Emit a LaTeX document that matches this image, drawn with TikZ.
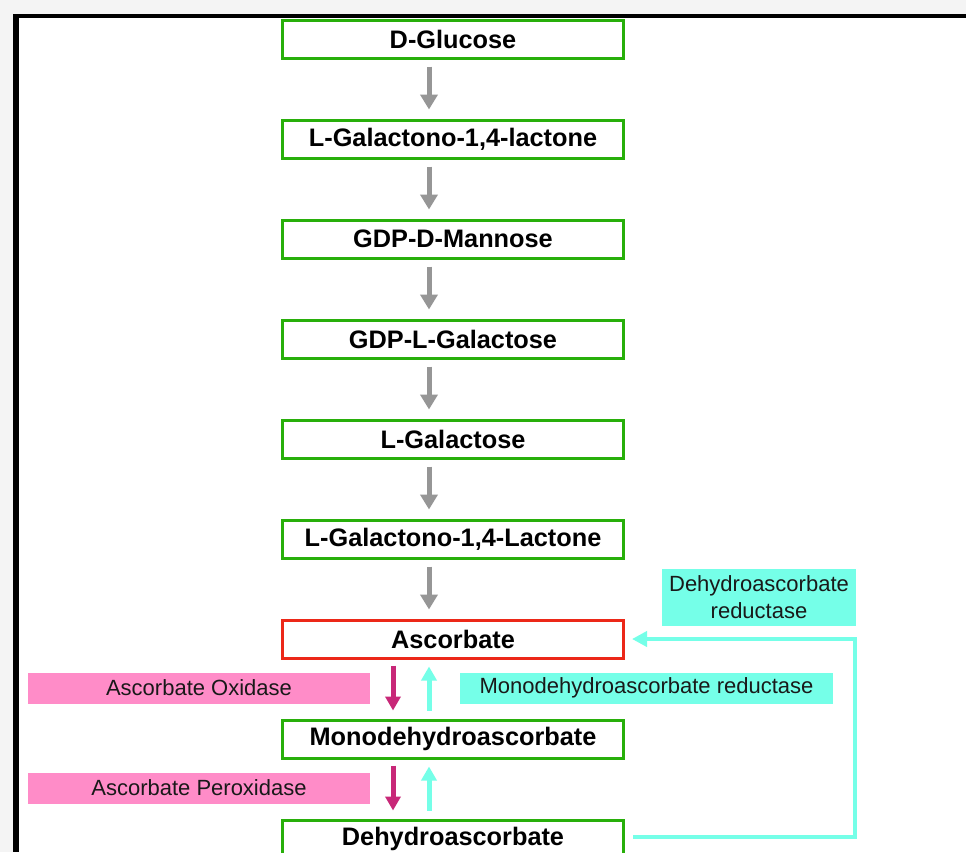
\documentclass[tikz,border=0pt]{standalone}
\usepackage{fontspec}
\setmainfont{Liberation Sans}
\usetikzlibrary{arrows.meta, positioning}
\definecolor{verde}{RGB}{40, 175, 10}
\definecolor{vermelho}{RGB}{236, 40, 24}
\definecolor{cinza}{RGB}{150, 150, 150}
\definecolor{rosa}{RGB}{255, 140, 200}
\definecolor{magenta}{RGB}{200, 40, 120}
\definecolor{ciano}{RGB}{117, 255, 232}
\definecolor{fundo}{RGB}{244, 244, 244}
\tikzset{
  caixa/.style={
    draw, line width=3pt, minimum width=341pt, minimum height=38pt,
    inner sep=0pt, font=\fontsize{25.3}{29}\selectfont\bfseries, text centered
  },
  caixaVerde/.style={caixa, draw=verde},
  caixaVermelha/.style={caixa, draw=vermelho},
  rotulo/.style={
    inner sep=0pt, minimum height=31pt, text=black!90,
    font=\fontsize{22}{27}\selectfont, align=center
  },
  rotuloRosa/.style={rotulo, fill=rosa, minimum width=342pt},
  rotuloCiano/.style={rotulo, fill=ciano},
  setaCinza/.style={-{Triangle[width=17pt, length=15pt]}, line width=5pt, cinza,
    shorten <=7pt, shorten >=9pt},
  setaRosa/.style={-{Triangle[width=15pt, length=14pt]}, line width=5pt, magenta,
    shorten <=6pt, shorten >=8pt},
  setaCiano/.style={-{Triangle[width=15pt, length=14pt]}, line width=5pt, ciano,
    shorten <=8pt, shorten >=7pt},
}

\begin{document}
\begin{tikzpicture}[x=1pt, y=-1pt,
    setaRetorno/.style={
        -{Triangle[width=15pt, length=15pt]},
        line width=4pt,
        ciano,
        shorten <=8pt,
        shorten >=7pt
    }
]

% moldura
\useasboundingbox (0,0) rectangle (966,852);
\fill[fundo] (0,0) rectangle (966,852);
\fill[white] (13,14) rectangle (966,852);
\fill[black] (13,14) rectangle (966,18);
\fill[black] (13,14) rectangle (19,852);

% via de biossintese
\node[caixaVerde] (glicose) at (453,39) {D-Glucose};
\node[caixaVerde] (lactona) at (453,139) {L-Galactono-1,4-lactone};
\node[caixaVerde] (manose) at (453,239) {GDP-D-Mannose};
\node[caixaVerde] (gdpgal) at (453,339) {GDP-L-Galactose};
\node[caixaVerde] (galactose) at (453,439) {L-Galactose};
\node[caixaVerde] (lactona2) at (453,539) {L-Galactono-1,4-Lactone};
\node[caixaVermelha] (ascorbato) at (453,639) {Ascorbate};
\node[caixaVerde] (mono) at (453,739) {Monodehydroascorbate};
\node[caixaVerde] (dehidro) at (453,839) {Dehydroascorbate};

\draw[setaCinza] ([xshift=-24pt]glicose.south) -- ([xshift=-24pt]lactona.north);
\draw[setaCinza] ([xshift=-24pt]lactona.south) -- ([xshift=-24pt]manose.north);
\draw[setaCinza] ([xshift=-24pt]manose.south) -- ([xshift=-24pt]gdpgal.north);
\draw[setaCinza] ([xshift=-24pt]gdpgal.south) -- ([xshift=-24pt]galactose.north);
\draw[setaCinza] ([xshift=-24pt]galactose.south) -- ([xshift=-24pt]lactona2.north);
\draw[setaCinza] ([xshift=-24pt]lactona2.south) -- ([xshift=-24pt]ascorbato.north);

% enzimas
\node[rotuloRosa] (oxidase) at (199,688) {Ascorbate Oxidase};
\node[rotuloRosa] (peroxidase) at (199,788) {Ascorbate Peroxidase};
\node[rotuloCiano, minimum width=373pt] (mdhar) at (646.5,688)
{Monodehydroascorbate reductase};
\node[rotuloCiano, minimum width=194pt, minimum height=57pt] (dhar) at (759,597.5)
{Dehydroascorbate\\reductase};

\draw[setaRosa] ([xshift=-60pt]ascorbato.south) -- ([xshift=-60pt]mono.north);
\draw[setaCiano] ([xshift=-24pt]mono.north) -- ([xshift=-24pt]ascorbato.south);
\draw[setaRosa] ([xshift=-60pt]mono.south) -- ([xshift=-60pt]dehidro.north);
\draw[setaCiano] ([xshift=-24pt]dehidro.north) -- ([xshift=-24pt]mono.south);

\draw[setaRetorno] ([yshift=2pt]dehidro.east) -- ++(230,0) |- (ascorbato.east);

\end{tikzpicture}
\end{document}
